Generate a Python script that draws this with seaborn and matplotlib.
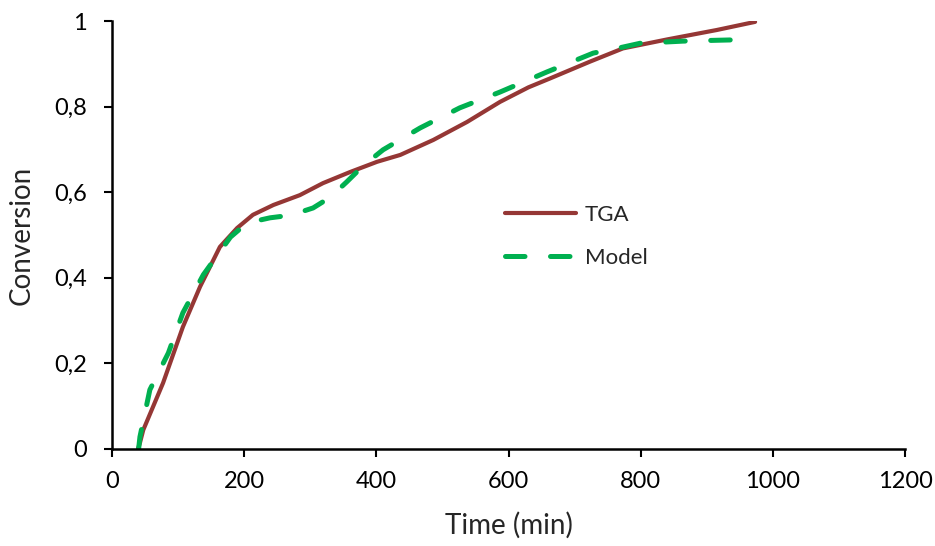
import matplotlib
matplotlib.use("Agg")
import matplotlib.pyplot as plt
import pandas as pd
import seaborn as sns
from matplotlib.ticker import FuncFormatter

# values
tga_time = [39, 42, 47, 77, 107, 133, 163, 189, 213, 244, 284, 319, 360, 401, 436,
            486, 537, 587, 630, 663, 723, 773, 840, 915, 973]
tga_conv = [0.0, 0.014, 0.044, 0.154, 0.285, 0.379, 0.472, 0.516, 0.547, 0.570, 0.593,
            0.621, 0.647, 0.671, 0.687, 0.722, 0.764, 0.811, 0.845, 0.866, 0.905,
            0.936, 0.957, 0.979, 0.998]
model_time = [40, 42, 57, 85, 107, 138, 179, 204, 239, 270, 304, 330, 355, 380, 410,
              466, 526, 587, 658, 728, 764, 799, 864, 915, 970]
model_conv = [0.0, 0.028, 0.138, 0.224, 0.318, 0.407, 0.495, 0.528, 0.540, 0.546, 0.563,
              0.588, 0.624, 0.662, 0.699, 0.750, 0.797, 0.834, 0.881, 0.925, 0.936,
              0.948, 0.953, 0.955, 0.957]

df = pd.concat([
    pd.DataFrame({"time": tga_time, "conv": tga_conv, "series": "TGA"}),
    pd.DataFrame({"time": model_time, "conv": model_conv, "series": "Model"}),
], ignore_index=True)

sns.set_style("ticks")
plt.rcParams["font.family"] = ["Lato", "DejaVu Sans"]

fig, ax = plt.subplots(figsize=(9.35, 5.46), dpi=100)
fig.subplots_adjust(left=0.12, right=0.968, bottom=0.178, top=0.9615)

sns.lineplot(data=df, x="time", y="conv", hue="series", style="series",
             palette={"TGA": "#953735", "Model": "#00B050"},
             dashes={"TGA": "", "Model": (3.9, 5.1)},
             sort=False, estimator=None, ax=ax)

for line, lw in zip(ax.get_lines()[:2], [3.0, 3.6]):
    line.set_linewidth(lw)
    line.set_solid_capstyle("round")
    line.set_solid_joinstyle("round")
    line.set_dash_capstyle("round")
    line.set_dash_joinstyle("round")

ax.set_xlim(0, 1200)
ax.set_ylim(0, 1)
ax.set_xticks(range(0, 1201, 200))
ax.set_yticks([0, 0.2, 0.4, 0.6, 0.8, 1.0])
ax.yaxis.set_major_formatter(FuncFormatter(lambda v, p: f"{v:g}".replace(".", ",")))
ax.tick_params(labelsize=17, width=1.5, length=6, direction="out", colors="black")
ax.tick_params(axis="x", pad=10)
ax.tick_params(axis="y", pad=12)
for s in ["left", "bottom"]:
    ax.spines[s].set_linewidth(1.8)
    ax.spines[s].set_color("black")
sns.despine(ax=ax)
ax.set_xlabel("Time (min)", fontsize=20, labelpad=14)
ax.set_ylabel("Conversion", fontsize=20, labelpad=14)

handles, labels = ax.get_legend_handles_labels()
for h, lw in zip(handles, [3.0, 3.6]):
    h.set_linewidth(lw)
    h.set_dash_capstyle("round")
    h.set_solid_capstyle("round")
ax.legend(handles, labels, loc="center left", bbox_to_anchor=(0.47, 0.497),
          frameon=False, fontsize=16, handlelength=3.2, labelspacing=1.05,
          handletextpad=0.4)

fig.savefig("out.png", dpi=100)
